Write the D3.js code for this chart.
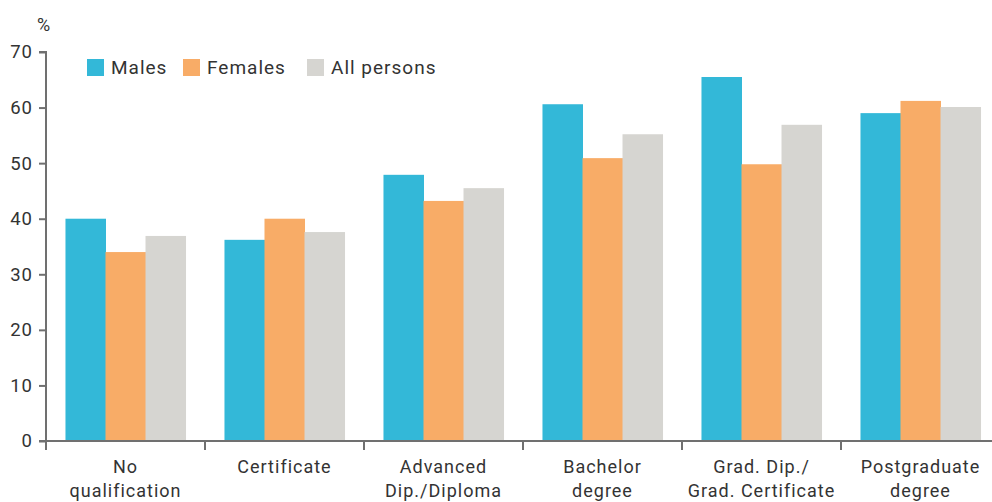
<!DOCTYPE html>
<html>
<head>
<meta charset="utf-8">
<script src="https://cdn.jsdelivr.net/npm/d3@7"></script>
<style>
  html, body { margin: 0; padding: 0; background: #fff; }
  svg text { font-family: Roboto, "Noto Sans", sans-serif; fill: #333; letter-spacing: 1px; }
</style>
</head>
<body>
<svg id="chart" width="992" height="502"></svg>
<script>
// Qualification categories (each label split over lines)
const categories = [
  ["No", "qualification"],
  ["Certificate"],
  ["Advanced", "Dip./Diploma"],
  ["Bachelor", "degree"],
  ["Grad. Dip./", "Grad. Certificate"],
  ["Postgraduate", "degree"]
];
const seriesNames = ["Males", "Females", "All persons"];
const males      = [40.0, 36.2, 47.9, 60.6, 65.5, 59.0];
const females    = [34.0, 40.0, 43.2, 50.9, 49.8, 61.2];
const allPersons = [36.9, 37.6, 45.5, 55.2, 56.9, 60.1];
const yTicks = [0, 10, 20, 30, 40, 50, 60, 70];

const colors = ["#33b8d8", "#f8ac67", "#d6d5d1"];
const seriesValues = [males, females, allPersons];

const svg = d3.select("#chart");
const plotLeft = 46, plotRight = 1000, plotTop = 52, plotBottom = 441;
const axisColor = "#707070";

const x0 = d3.scaleBand()
  .domain(d3.range(categories.length))
  .range([plotLeft, plotRight])
  .paddingInner(0.245)
  .paddingOuter(0.1225);
const x1 = d3.scaleBand()
  .domain(d3.range(seriesNames.length))
  .range([0, x0.bandwidth()]);
const y = d3.scaleLinear().domain([0, 70]).range([plotBottom, plotTop]);

// Bars
const groups = svg.append("g").selectAll("g")
  .data(categories.map((c, i) => i))
  .join("g")
  .attr("transform", i => `translate(${x0(i)},0)`);
groups.selectAll("rect")
  .data(i => seriesValues.map((s, k) => ({k, v: s[i]})))
  .join("rect")
  .attr("x", d => x1(d.k))
  .attr("width", x1.bandwidth() + 0.5)
  .attr("y", d => y(d.v))
  .attr("height", d => y(0) - y(d.v))
  .attr("fill", d => colors[d.k]);

// Y axis
const yAxis = svg.append("g")
  .attr("transform", `translate(${plotLeft},0)`)
  .call(d3.axisLeft(y).tickValues(yTicks).tickSize(7).tickPadding(6));
yAxis.select(".domain").attr("stroke", axisColor).attr("stroke-width", 2)
  .attr("d", `M-7,${plotTop}H0V${plotBottom}`);
yAxis.selectAll(".tick line").attr("stroke", axisColor).attr("stroke-width", 2);
yAxis.selectAll(".tick text").attr("font-size", 18.5).style("fill", "#333")
  .style("font-family", "Roboto, sans-serif");

// X axis with boundary ticks between categories
const step = x0.step();
const xStart = x0(0) - x0.paddingOuter() * step;
const boundaries = d3.range(categories.length + 1).map(i => xStart + i * step);
const xg = svg.append("g");
xg.append("line")
  .attr("x1", plotLeft - 7).attr("x2", 992)
  .attr("y1", plotBottom).attr("y2", plotBottom)
  .attr("stroke", axisColor).attr("stroke-width", 2);
xg.selectAll("line.b")
  .data(boundaries)
  .join("line")
  .attr("class", "b")
  .attr("x1", d => d).attr("x2", d => d)
  .attr("y1", plotBottom).attr("y2", plotBottom + 9)
  .attr("stroke", axisColor).attr("stroke-width", 2);

// Category labels
const lab = svg.append("g").selectAll("text")
  .data(categories.map((c, i) => ({c, i})))
  .join("text")
  .attr("text-anchor", "middle")
  .attr("font-size", 18)
  .attr("x", d => x0(d.i) + x0.bandwidth() / 2);
lab.selectAll("tspan")
  .data(d => d.c.map((t, j) => ({t, j, x: x0(d.i) + x0.bandwidth() / 2})))
  .join("tspan")
  .attr("x", d => d.x)
  .attr("y", d => 473 + d.j * 24)
  .text(d => d.t);

// Unit label
svg.append("text").attr("x", 37).attr("y", 31).attr("font-size", 18).text("%");

// Legend
const legendX = [87, 183, 307];
const leg = svg.append("g").selectAll("g")
  .data(seriesNames.map((n, k) => ({n, k})))
  .join("g")
  .attr("transform", d => `translate(${legendX[d.k]},59)`);
leg.append("rect").attr("width", 17).attr("height", 17).attr("fill", d => colors[d.k]);
leg.append("text").attr("x", 24).attr("y", 15).attr("font-size", 19).text(d => d.n);
</script>
</body>
</html>
